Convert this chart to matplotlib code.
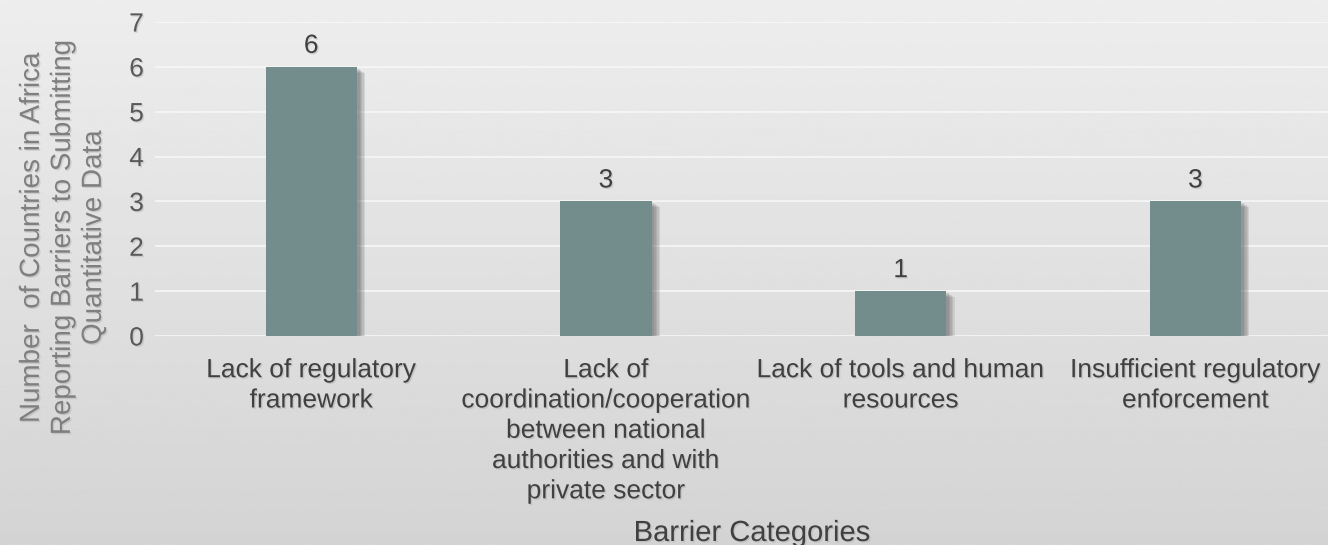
import numpy as np
import matplotlib
matplotlib.use('Agg')
import matplotlib.pyplot as plt
import matplotlib.patheffects as pe

plt.rcParams['font.family'] = ['Liberation Sans', 'DejaVu Sans']

categories = ['Lack of regulatory\nframework',
              'Lack of\ncoordination/cooperation\nbetween national\nauthorities and with\nprivate sector',
              'Lack of tools and human\nresources',
              'Insufficient regulatory\nenforcement']
counts = [6, 3, 1, 3]

BAR = '#738c8c'
TXT = '#404040'

fig = plt.figure(figsize=(13.28, 5.45), dpi=100)

# soft vertical gradient behind everything
bg = fig.add_axes([0, 0, 1, 1], zorder=-10)
grad = np.linspace(0.93, 0.83, 256).reshape(-1, 1)
bg.imshow(grad, cmap='gray', vmin=0, vmax=1, aspect='auto', extent=[0, 1, 0, 1])
bg.axis('off')

ax = fig.add_axes([0.1167, 0.3835, 0.8833, 0.5761])
ax.patch.set_alpha(0)
x = np.arange(len(categories))
bars = ax.bar(x, counts, width=0.31, color=BAR, zorder=3)

# blurred drop shadow built from a few faint offset copies
shadow = [pe.SimplePatchShadow(offset=(d, -d * 0.7), shadow_rgbFace='#444444', alpha=0.12)
          for d in (2, 3, 4, 5, 6)] + [pe.Normal()]
for b in bars:
    b.set_path_effects(shadow)

# faint shadow under the text
tshadow = [pe.SimplePatchShadow(offset=(1, -1), shadow_rgbFace='#888888', alpha=0.25), pe.Normal()]

for xi, v in zip(x, counts):
    ax.text(xi, v + 0.2, str(v), ha='center', va='bottom', fontsize=19, color=TXT,
            path_effects=tshadow)

ax.set_xlim(-0.53, 3.45)
ax.set_ylim(0, 7)
ax.set_yticks(range(0, 8))
ax.set_xticks(x)
ax.set_xticklabels(categories, fontsize=19, color=TXT, linespacing=1.33)
ax.tick_params(axis='y', labelsize=19, labelcolor='#595959', length=0, pad=8)
ax.tick_params(axis='x', length=0, pad=16)
for lbl in ax.get_xticklabels() + ax.get_yticklabels():
    lbl.set_path_effects(tshadow)
ax.grid(axis='y', color='#f7f7f7', lw=1.2, zorder=0)
for s in ax.spines.values():
    s.set_visible(False)

ax.set_ylabel('Number  of Countries in Africa\nReporting Barriers to Submitting\nQuantitative Data',
              fontsize=20, color='#7f7f7f', linespacing=1.25, path_effects=tshadow)
ax.yaxis.set_label_coords(-0.041, 0.312)

fig.text(0.5663, 1 - 541 / 545, 'Barrier Categories', ha='center', va='baseline',
         fontsize=21, color=TXT, path_effects=tshadow)

fig.savefig('out.png', dpi=100)
